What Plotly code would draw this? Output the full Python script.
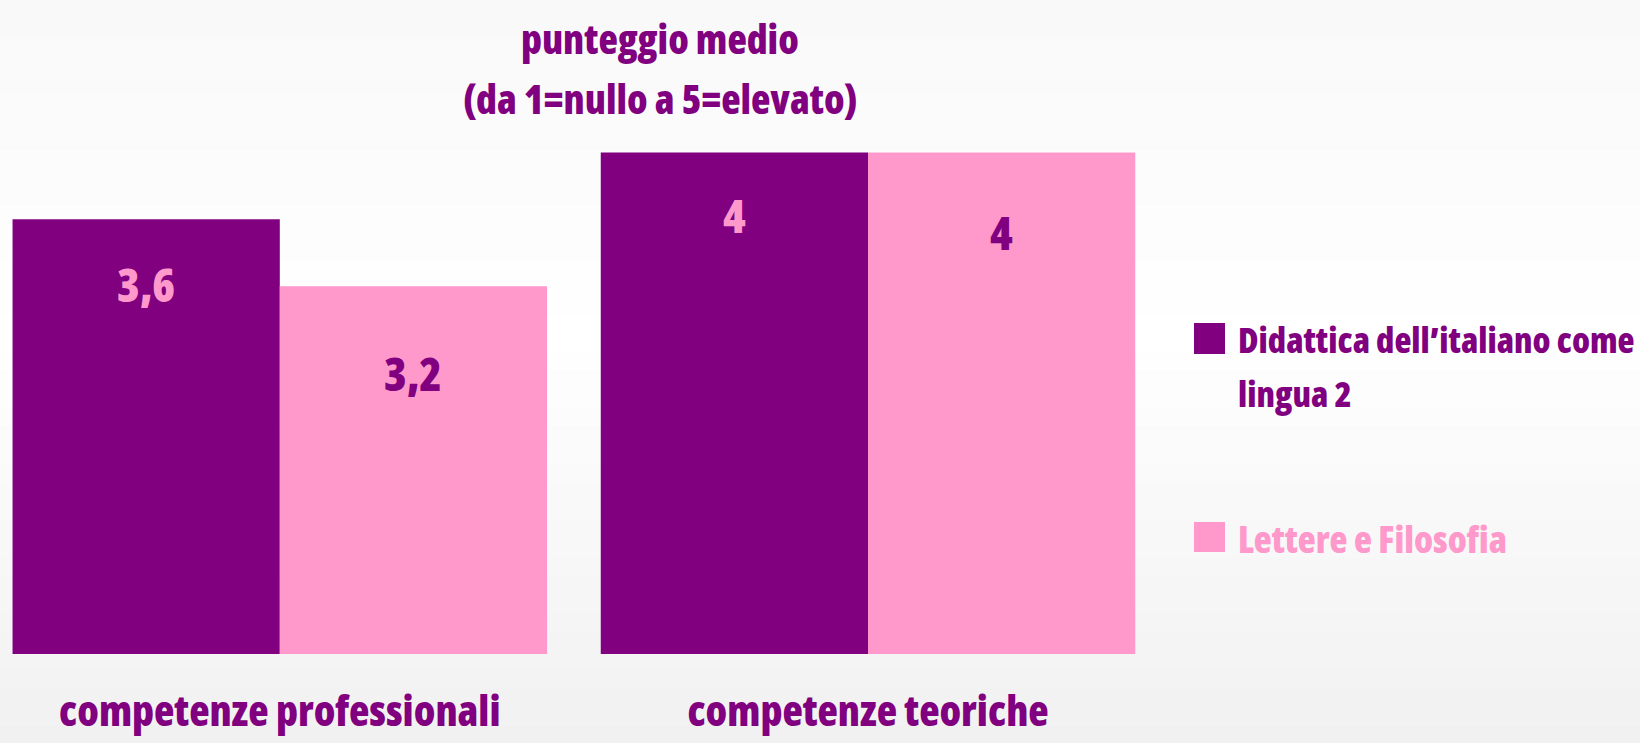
import plotly.graph_objects as go

# ---- data ----
categories = ["competenze professionali", "competenze teoriche"]
series_names = ["Didattica dell’italiano come lingua 2", "Lettere e Filosofia"]
didattica = [3.6, 4.0]
lettere = [3.2, 4.0]
labels_didattica = ["3,6", "4"]
labels_lettere = ["3,2", "4"]
title_lines = ["punteggio medio", "(da 1=nullo a 5=elevato)"]

PURPLE = "#800080"
PINK = "#FF99CC"
FONT = "Open Sans, Roboto Condensed, sans-serif"
WEIGHT = 800


def cond(t):
    return f'<span style="font-stretch:condensed">{t}</span>'


W, H = 1640, 743
PLOT_L, PLOT_R, PLOT_T, PLOT_B = 0, 1140, 2, 654  # pixel edges of plot area


def px_x(x):
    return (x - PLOT_L) / (PLOT_R - PLOT_L)


def px_y(y):
    return (PLOT_B - y) / (PLOT_B - PLOT_T)


fig = go.Figure()
fig.add_trace(go.Bar(x=categories, y=didattica, name=series_names[0],
                     marker=dict(color=PURPLE, line=dict(width=0)), showlegend=False))
fig.add_trace(go.Bar(x=categories, y=lettere, name=series_names[1],
                     marker=dict(color=PINK, line=dict(width=0)), showlegend=False))

# background gradient (styling only)
shapes = []
n = 40
for i in range(n):
    yfrac = i / (n - 1)  # 0 top -> 1 bottom
    if yfrac < 0.45:
        v = 249 + (255 - 249) * (yfrac / 0.45)
    else:
        v = 255 - (255 - 241) * ((yfrac - 0.45) / 0.55)
    c = int(round(v))
    shapes.append(dict(type="rect", xref="paper", yref="paper", layer="below",
                       x0=px_x(0), x1=px_x(W),
                       y0=px_y(H * (i + 1) / n), y1=px_y(H * i / n),
                       fillcolor=f"rgb({c},{c},{c})", line=dict(width=0)))

# legend squares
shapes.append(dict(type="rect", xref="paper", yref="paper",
                   x0=px_x(1194), x1=px_x(1225), y0=px_y(354), y1=px_y(323),
                   fillcolor=PURPLE, line=dict(width=0)))
shapes.append(dict(type="rect", xref="paper", yref="paper",
                   x0=px_x(1194), x1=px_x(1225), y0=px_y(552), y1=px_y(522),
                   fillcolor=PINK, line=dict(width=0)))

annotations = []
off = 133.6
label_shift_d = [-65, -63]
label_shift_l = [-87, -80]
for i, cat in enumerate(categories):
    annotations.append(dict(x=cat, y=didattica[i], xref="x", yref="y", text=cond(labels_didattica[i]),
                            showarrow=False, xshift=-off, yshift=label_shift_d[i],
                            font=dict(family=FONT, size=46, color=PINK, weight=WEIGHT)))
    annotations.append(dict(x=cat, y=lettere[i], xref="x", yref="y", text=cond(labels_lettere[i]),
                            showarrow=False, xshift=off, yshift=label_shift_l[i],
                            font=dict(family=FONT, size=46, color=PURPLE, weight=WEIGHT)))

# legend texts (two lines placed separately to keep the spacing)
legend_lines = ["Didattica dell’italiano come", "lingua 2"]
for t, yc in zip(legend_lines, [339, 393]):
    annotations.append(dict(x=px_x(1236), y=px_y(yc), xref="paper", yref="paper",
                            text=cond(t), showarrow=False, xanchor="left", yanchor="middle",
                            align="left",
                            font=dict(family=FONT, size=35, color=PURPLE, weight=WEIGHT)))
annotations.append(dict(x=px_x(1236), y=px_y(538), xref="paper", yref="paper",
                        text=cond(series_names[1]), showarrow=False,
                        xanchor="left", yanchor="middle", align="left",
                        font=dict(family=FONT, size=37, color=PINK, weight=WEIGHT)))

# title (two lines)
for t, yc in zip(title_lines, [38, 98]):
    annotations.append(dict(x=px_x(660), y=px_y(yc), xref="paper", yref="paper",
                            text=cond(t), showarrow=False,
                            xanchor="center", yanchor="middle", align="center",
                            font=dict(family=FONT, size=40, color=PURPLE, weight=WEIGHT)))

cat_px = 588.2
x0 = (PLOT_L - 279.8) / cat_px
x1 = (PLOT_R - 279.8) / cat_px

fig.update_layout(
    width=W, height=H,
    margin=dict(l=PLOT_L, r=W - PLOT_R, t=PLOT_T, b=H - PLOT_B, pad=0),
    paper_bgcolor="#f7f7f7", plot_bgcolor="rgba(0,0,0,0)",
    barmode="group", bargap=0.0913, bargroupgap=0,
    shapes=shapes, annotations=annotations,
    xaxis=dict(range=[x0, x1], showgrid=False, zeroline=False, showline=False, automargin=False,
               tickmode="array", tickvals=categories, ticktext=[cond(c) for c in categories],
               ticks="outside", ticklen=21, tickcolor="rgba(0,0,0,0)",
               tickfont=dict(family=FONT, size=42, color=PURPLE, weight=WEIGHT)),
    yaxis=dict(range=[1, 4.9], visible=False, showgrid=False, zeroline=False, automargin=False),
    showlegend=False,
)

fig.write_html("out.html", config={"displayModeBar": False},
               post_script="document.body.style.margin='0px';")
